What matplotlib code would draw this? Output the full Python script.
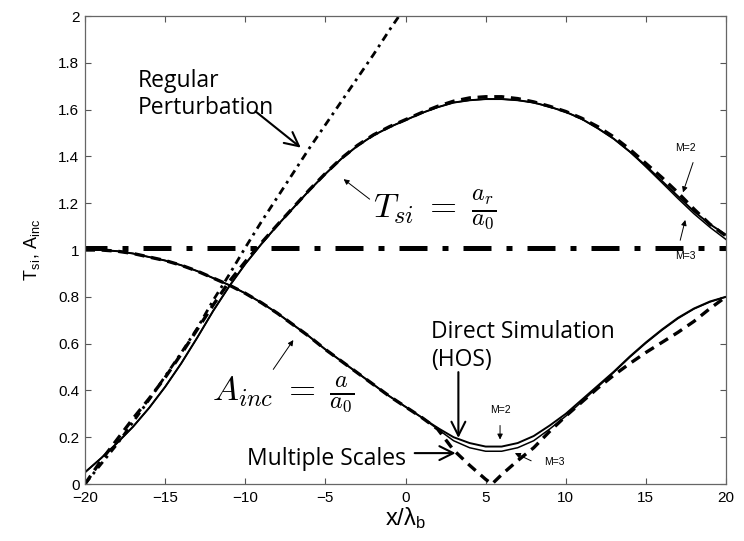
import numpy as np
import matplotlib
matplotlib.use("Agg")
import matplotlib.pyplot as plt

plt.rcParams["mathtext.fontset"] = "cm"
plt.rcParams["font.family"] = ["Liberation Sans", "DejaVu Sans"]

# positions along the channel, x / lambda_b
x_pos = list(range(-20, 21))

# T_si, direct simulation (HOS), M=2 and M=3
tsi_m2 = [0.05, 0.11, 0.175, 0.245, 0.325, 0.415, 0.515, 0.625, 0.74, 0.845,
          0.94, 1.025, 1.105, 1.18, 1.255, 1.325, 1.39, 1.445, 1.49, 1.525,
          1.555, 1.585, 1.61, 1.63, 1.64, 1.645, 1.645, 1.64, 1.63, 1.612,
          1.59, 1.56, 1.52, 1.475, 1.42, 1.36, 1.295, 1.23, 1.165, 1.11, 1.065]
tsi_m3 = [0.05, 0.11, 0.175, 0.245, 0.325, 0.415, 0.515, 0.625, 0.74, 0.845,
          0.94, 1.025, 1.105, 1.18, 1.255, 1.325, 1.39, 1.445, 1.49, 1.525,
          1.555, 1.585, 1.61, 1.63, 1.64, 1.645, 1.645, 1.64, 1.63, 1.612,
          1.59, 1.56, 1.52, 1.475, 1.42, 1.355, 1.288, 1.22, 1.155, 1.097, 1.045]
# T_si, multiple scales
tsi_ms = [0.0, 0.10, 0.19, 0.28, 0.365, 0.455, 0.555, 0.66, 0.765, 0.865,
          0.95, 1.03, 1.107, 1.182, 1.257, 1.327, 1.392, 1.447, 1.492, 1.527,
          1.557, 1.587, 1.614, 1.636, 1.65, 1.655, 1.655, 1.647, 1.633, 1.614,
          1.592, 1.563, 1.527, 1.483, 1.43, 1.37, 1.31, 1.245, 1.175, 1.11, 1.06]
# T_si, regular perturbation (leaves the top of the axes just before x = 0)
x_rp = list(range(-20, 1))
tsi_rp = [0.0, 0.085, 0.17, 0.265, 0.36, 0.46, 0.56, 0.665, 0.785, 0.895,
          1.01, 1.12, 1.225, 1.33, 1.435, 1.535, 1.635, 1.735, 1.835, 1.94, 2.04]

# A_inc, direct simulation (HOS)
ainc_m2 = [1.0, 1.0, 0.995, 0.985, 0.97, 0.955, 0.935, 0.91, 0.88, 0.85,
           0.815, 0.775, 0.73, 0.68, 0.63, 0.575, 0.525, 0.475, 0.425, 0.375,
           0.33, 0.285, 0.24, 0.20, 0.175, 0.16, 0.16, 0.175, 0.205, 0.25,
           0.30, 0.36, 0.42, 0.48, 0.545, 0.605, 0.66, 0.71, 0.75, 0.78, 0.80]
ainc_m3 = [1.0, 1.0, 0.995, 0.985, 0.97, 0.955, 0.935, 0.91, 0.88, 0.85,
           0.815, 0.775, 0.73, 0.68, 0.63, 0.575, 0.525, 0.475, 0.425, 0.375,
           0.33, 0.285, 0.235, 0.185, 0.155, 0.14, 0.14, 0.155, 0.185, 0.235,
           0.29, 0.352, 0.415, 0.477, 0.542, 0.602, 0.657, 0.707, 0.748, 0.778, 0.80]
# A_inc, multiple scales (goes to zero near x = 5.4)
x_ms_a = [-20, -19, -18, -17, -16, -15, -14, -13, -12, -11, -10, -9, -8, -7,
          -6, -5, -4, -3, -2, -1, 0, 1, 2, 3, 4, 5, 5.4, 6, 7, 8, 9, 10, 11,
          12, 13, 14, 15, 16, 17, 18, 19, 20]
ainc_ms = [1.0, 1.0, 0.995, 0.985, 0.97, 0.955, 0.935, 0.91, 0.88, 0.85,
           0.815, 0.775, 0.73, 0.68, 0.63, 0.575, 0.525, 0.475, 0.425, 0.375,
           0.33, 0.285, 0.235, 0.145, 0.08, 0.02, 0.0, 0.04, 0.10, 0.155, 0.225,
           0.29, 0.35, 0.41, 0.465, 0.515, 0.562, 0.605, 0.648, 0.695, 0.75, 0.80]

ref_level = 1.008

x_ticks = [-20, -15, -10, -5, 0, 5, 10, 15, 20]
x_tick_labels = ["\u221220", "\u221215", "\u221210", "\u22125", "0", "5", "10", "15", "20"]
y_ticks = [0, 0.2, 0.4, 0.6, 0.8, 1.0, 1.2, 1.4, 1.6, 1.8, 2.0]
y_tick_labels = ["0", "0.2", "0.4", "0.6", "0.8", "1", "1.2", "1.4", "1.6", "1.8", "2"]

fig = plt.figure(figsize=(7.44, 5.41), dpi=100)
ax = fig.add_axes([85 / 744, 57 / 541, 641 / 744, 468 / 541])

ax.axhline(ref_level, color="black", lw=3.6,
           linestyle=(1.2, (5.6, 3.0, 1.2, 3.0)), dash_capstyle="butt")

ax.plot(x_rp, tsi_rp, color="black", lw=2.0,
        linestyle=(0, (2.8, 1.8, 1.0, 1.8)))
ax.plot(x_pos, tsi_ms, color="black", lw=2.4, linestyle=(0, (3.0, 2.0)))
ax.plot(x_ms_a, ainc_ms, color="black", lw=2.4, linestyle=(0, (3.0, 2.0)))
ax.plot(x_pos, tsi_m2, color="black", lw=1.4)
ax.plot(x_pos, tsi_m3, color="black", lw=1.1)
ax.plot(x_pos, ainc_m2, color="black", lw=1.4)
ax.plot(x_pos, ainc_m3, color="black", lw=1.1)

ax.set_xlim(-20, 20)
ax.set_ylim(0, 2)
ax.set_xticks(x_ticks)
ax.set_xticklabels(x_tick_labels)
ax.set_yticks(y_ticks)
ax.set_yticklabels(y_tick_labels)
ax.tick_params(direction="in", length=4, width=0.8, color="#555555",
               top=True, right=True, labelsize=11)
ax.tick_params(axis="x", pad=5)
ax.tick_params(axis="y", pad=4)
for s in ax.spines.values():
    s.set_color("#666666")
    s.set_linewidth(0.9)

ax.set_xlabel(r"x/$\mathregular{\lambda_b}$", fontsize=17, labelpad=0)
ax.set_ylabel(r"T$_{\mathregular{si}}$, A$_{\mathregular{inc}}$", fontsize=13, labelpad=11)

label_font = ["Open Sans", "DejaVu Sans"]
big_head = dict(arrowstyle="->", color="black", lw=1.5, mutation_scale=25)
small_head = dict(arrowstyle="-|>", color="black", lw=0.7, mutation_scale=8)

ax.text(-16.7, 1.665, "Regular\nPerturbation", family=label_font, fontsize=16.5,
        va="center", ha="left", linespacing=1.2)
ax.annotate("", xy=(-6.4, 1.43), xytext=(-9.5, 1.6), arrowprops=big_head)

ax.text(-2.0, 1.17, r"$T_{si}\;=\;\frac{a_r}{a_0}$", fontsize=25, va="center", ha="left")
ax.annotate("", xy=(-4.0, 1.31), xytext=(-2.1, 1.21), arrowprops=small_head)

ax.text(-12.1, 0.38, r"$A_{inc}\;=\;\frac{a}{a_0}$", fontsize=25, va="center", ha="left")
ax.annotate("", xy=(-6.9, 0.625), xytext=(-8.35, 0.48), arrowprops=small_head)

ax.text(1.6, 0.59, "Direct Simulation\n(HOS)", family=label_font, fontsize=16.5,
        va="center", ha="left", linespacing=1.2)
ax.annotate("", xy=(3.3, 0.185), xytext=(3.3, 0.49), arrowprops=big_head)

ax.text(-9.9, 0.107, "Multiple Scales", family=label_font, fontsize=16.5,
        va="center", ha="left")
ax.annotate("", xy=(3.3, 0.132), xytext=(0.4, 0.132), arrowprops=big_head)

ax.text(5.9, 0.316, "M=2", fontsize=7.5, ha="center", va="center")
ax.annotate("", xy=(5.9, 0.178), xytext=(5.9, 0.262), arrowprops=small_head)
ax.text(9.3, 0.094, "M=3", fontsize=7.5, ha="center", va="center")
ax.annotate("", xy=(6.67, 0.137), xytext=(8.0, 0.094), arrowprops=small_head)

ax.text(17.5, 1.436, "M=2", fontsize=7.5, ha="center", va="center")
ax.annotate("", xy=(17.26, 1.235), xytext=(18.0, 1.385), arrowprops=small_head)
ax.text(17.45, 0.974, "M=3", fontsize=7.5, ha="center", va="center")
ax.annotate("", xy=(17.5, 1.14), xytext=(17.1, 1.03), arrowprops=small_head)

fig.savefig("out.png", dpi=100)
